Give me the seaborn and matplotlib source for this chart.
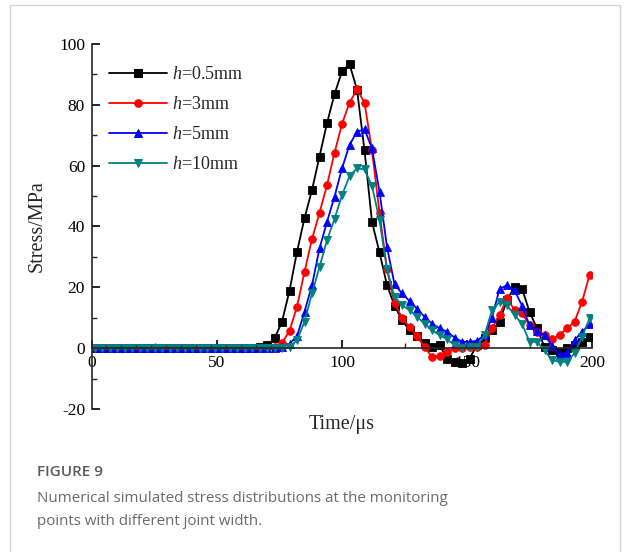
import numpy as np
import pandas as pd
import seaborn as sns
import matplotlib
matplotlib.use("Agg")
import matplotlib.pyplot as plt
from matplotlib.patches import Rectangle

# ---------------- data ----------------
time_us = np.arange(1, 200, 3)  # 67 sample times, 1..199 us

stress_h05 = [0]*22 + [0.4, 1.0, 3.2, 8.7, 18.9, 31.7, 42.7, 52.0, 63.0, 74.0, 83.5, 91.0,
                       93.4, 85.0, 65.1, 41.5, 31.5, 20.7, 14.0, 9.2, 5.9, 3.9, 1.7, 0.4,
                       1.0, -3.4, -4.5, -5.0, -3.4, 1.0, 3.5, 5.9, 8.7, 15.8, 20.2, 19.6,
                       12.0, 6.5, 0.4, -0.7, -1.2, -0.1, 1.0, 2.0, 3.7]
stress_h3 = [0]*24 + [0.4, 1.7, 5.7, 13.6, 25.1, 35.9, 44.5, 53.6, 64.2, 73.7, 80.7, 85.1,
                      80.7, 65.0, 44.5, 26.0, 14.7, 10.0, 7.0, 4.0, 0.3, -2.9, -2.6, -1.2,
                      -0.1, 0.2, 0.4, 0.4, 1.0, 6.5, 10.9, 16.5, 12.5, 11.4, 7.6, 5.4,
                      4.3, 2.9, 4.3, 6.5, 8.7, 15.2, 24.0]
stress_h5 = [0]*25 + [0.5, 1.5, 3.9, 12.0, 20.7, 32.8, 41.5, 49.8, 59.1, 66.8, 71.2, 71.9,
                      65.7, 51.4, 33.3, 21.0, 18.0, 15.5, 13.0, 10.3, 8.1, 6.5, 5.4, 3.5,
                      2.1, 2.1, 2.4, 4.3, 10.0, 19.5, 20.7, 19.0, 14.0, 7.5, 5.5, 4.3,
                      0.8, -2.3, -1.5, 2.6, 5.4, 7.8]
stress_h10 = [0]*26 + [0.4, 2.6, 8.7, 18.0, 26.7, 35.5, 42.5, 50.3, 56.6, 59.1, 58.8, 53.3,
                       42.1, 25.9, 16.9, 14.1, 12.5, 10.3, 8.1, 5.9, 4.3, 2.9, 1.0, -0.1,
                       0.4, 0.5, 4.3, 12.5, 15.2, 14.1, 10.9, 8.1, 2.1, 2.1, -0.7, -3.9,
                       -4.5, -4.5, -1.7, 3.7, 9.8]

series_labels = ["$h$=0.5mm", "$h$=3mm", "$h$=5mm", "$h$=10mm"]
series_values = [stress_h05, stress_h3, stress_h5, stress_h10]
series_colors = ["#000000", "#FF0000", "#0000FF", "#008080"]
series_markers = ["s", "o", "^", "v"]

x_ticks = [0, 50, 100, 150, 200]
y_ticks = [-20, 0, 20, 40, 60, 80, 100]

df = pd.concat(
    [pd.DataFrame({"Time": time_us, "Stress": vals, "h": lab})
     for lab, vals in zip(series_labels, series_values)],
    ignore_index=True)

# ---------------- style ----------------
sns.set_style("ticks")
plt.rcParams["font.family"] = ["Liberation Serif", "DejaVu Serif"]
plt.rcParams["mathtext.fontset"] = "custom"
plt.rcParams["mathtext.rm"] = "Liberation Serif"
plt.rcParams["mathtext.it"] = "Liberation Serif:italic"
plt.rcParams["axes.unicode_minus"] = False

fig = plt.figure(figsize=(6.24, 5.52), dpi=100)
ax = fig.add_axes([92/624, 1-409/552, 500/624, 365/552])

sns.lineplot(data=df, x="Time", y="Stress", hue="h", style="h",
             hue_order=series_labels, style_order=series_labels,
             palette=series_colors, markers=series_markers, dashes=False,
             linewidth=1.3, markersize=5.5, ax=ax)

for ln in ax.lines:
    ln.set_markeredgecolor(ln.get_color())
    ln.set_markeredgewidth(0.6)

ax.set_xlim(0, 200)
ax.set_ylim(-20, 100)
ax.set_xticks(x_ticks)
ax.set_yticks(y_ticks)
ax.set_xticks(np.arange(25, 200, 50), minor=True)
ax.set_yticks(np.arange(-10, 100, 20), minor=True)
ax.spines["top"].set_visible(False)
ax.spines["right"].set_visible(False)
ax.spines["bottom"].set_position(("data", 0))
for s in ("left", "bottom"):
    ax.spines[s].set_linewidth(1.2)
ax.tick_params(which="major", direction="in", length=6, width=1.2,
               labelsize=12.5, colors="black")
ax.tick_params(which="minor", direction="in", length=3.5, width=1.0)
ax.tick_params(axis="x", pad=5)
ax.tick_params(axis="y", pad=5)

ax.set_xlabel("Time/μs", fontsize=14.5)
ax.set_ylabel("Stress/MPa", fontsize=14.5)
ax.xaxis.set_label_coords(0.5, -0.016)
ax.yaxis.set_label_coords(-0.09, 0.5)

leg_src = ax.get_legend()
handles = leg_src.legend_handles
for h, c in zip(handles, series_colors):
    h.set_markeredgecolor(c)
leg = ax.legend(handles, series_labels, loc="upper left",
                bbox_to_anchor=(0.02, 0.96), frameon=False, fontsize=13,
                handlelength=3.2, handletextpad=0.25, labelspacing=0.72,
                borderaxespad=0.0)

# ---------------- caption & frame ----------------
fig.patches.append(Rectangle((10/624, -0.1), 610/624, 1 - 5/552 + 0.1,
                             transform=fig.transFigure, fill=False,
                             edgecolor="#d4d4d4", linewidth=1.0))
fig.text(37/624, 1-476.5/552, "FIGURE 9", family=["Open Sans", "DejaVu Sans"],
         fontsize=11, weight="semibold", color="#5a5a5a", va="baseline")
fig.text(37/624, 1-502/552, "Numerical simulated stress distributions at the monitoring",
         family=["Open Sans", "DejaVu Sans"], fontsize=10.9, color="#6a6a6a", va="baseline")
fig.text(37/624, 1-525/552, "points with different joint width.",
         family=["Open Sans", "DejaVu Sans"], fontsize=10.9, color="#6a6a6a", va="baseline")

fig.savefig("out.png", dpi=100)
